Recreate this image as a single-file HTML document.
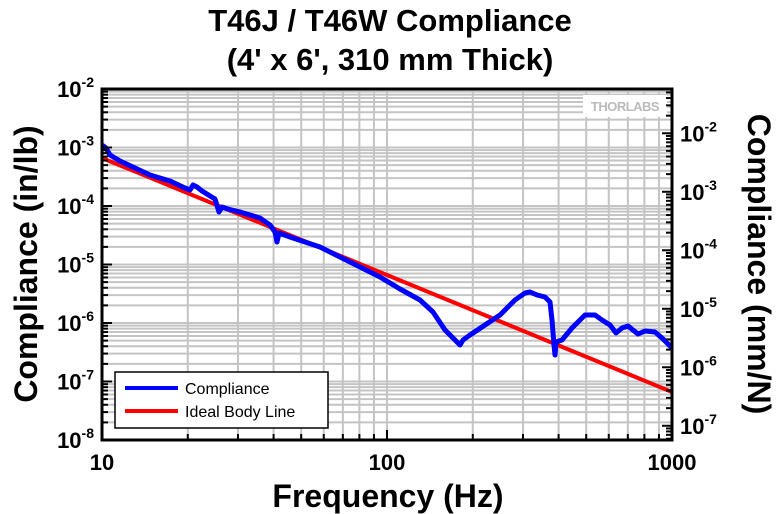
<!DOCTYPE html>
<html><head><meta charset="utf-8"><style>
body{margin:0;background:#fff;width:780px;height:514px;overflow:hidden}
svg{display:block;font-family:"Liberation Sans",Arial,sans-serif;font-weight:bold}
</style></head><body>
<svg id="s" width="780" height="514" xmlns="http://www.w3.org/2000/svg">
<g id="grid"></g>
<text x="390" y="31" text-anchor="middle" font-size="31">T46J / T46W Compliance</text>
<text x="390" y="70" text-anchor="middle" font-size="31">(4' x 6', 310 mm Thick)</text>
<text x="388" y="507" text-anchor="middle" font-size="32">Frequency (Hz)</text>
<text transform="translate(37,264) rotate(-90)" text-anchor="middle" font-size="32">Compliance (in/lb)</text>
<text transform="translate(748,264) rotate(90)" text-anchor="middle" font-size="32">Compliance (mm/N)</text>
<rect x="583" y="95" width="84" height="22" fill="#fff"/>
<text x="625" y="111" text-anchor="middle" font-size="13" fill="#bbb" letter-spacing="-0.5">THORLABS</text>
<polyline fill="none" stroke="#f00" stroke-width="4" points="102,158 672,392"/>
<polyline fill="none" stroke="#00f" stroke-width="5" stroke-linejoin="round" points="102,145 106,148 110,155 120,161 135,168 150,175 170,181 185,188 190,190 193,185 197,187 202,191 215,199 219,212 222,207 228,209 240,212 260,218 270,225 275,232 277,242 279,233 290,237 320,247 350,262 380,277 400,289 420,300 433,312 445,330 455,340 460,345 463,340 470,335 485,325 500,315 515,300 525,293 530,292 537,295 545,297 550,302 552,320 554,345 555,355 556,342 562,340 572,328 585,315 595,315 602,320 610,325 616,333 622,328 628,326 638,334 645,331 655,332 662,338 672,348"/>
<g id="axes"></g>
<rect x="115" y="372" width="213" height="56" fill="#fff" stroke="#000" stroke-width="1.5"/>
<line x1="125" y1="388" x2="178" y2="388" stroke="#00f" stroke-width="4"/>
<line x1="125" y1="411" x2="178" y2="411" stroke="#f00" stroke-width="4"/>
<text x="185" y="394" font-size="16" font-weight="normal">Compliance</text>
<text x="185" y="417" font-size="16" font-weight="normal">Ideal Body Line</text>
</svg>
<script>
var NS="http://www.w3.org/2000/svg",L=102,R=672,T=89,B=440,dx=285,dy=58.5;
function el(p,t,a,txt){var e=document.createElementNS(NS,t);for(var k in a)e.setAttribute(k,a[k]);if(txt!==undefined)e.innerHTML=txt;p.appendChild(e);return e;}
var g=document.getElementById('grid'),a=document.getElementById('axes');
for(var d=0;d<2;d++)for(var m=1;m<10;m++){var x=L+dx*(d+Math.log10(m));if(x<=L)continue;el(g,'line',{x1:x,x2:x,y1:T,y2:B,stroke:'#c4c4c4','stroke-width':2});}
for(var d=0;d<6;d++)for(var m=1;m<10;m++){var y=B-dy*(d+Math.log10(m));if(y>=B)continue;el(g,'line',{x1:L,x2:R,y1:y,y2:y,stroke:'#c4c4c4','stroke-width':2});}
el(a,'rect',{x:L,y:T,width:R-L,height:B-T,fill:'none',stroke:'#000','stroke-width':3});
for(var d=0;d<=6;d++){for(var m=1;m<10;m++){var y=B-dy*(d+Math.log10(m));if(y<T-1)break;el(a,'line',{x1:L,x2:L+(m==1?10:6),y1:y,y2:y,stroke:'#000','stroke-width':2});}
var y=B-dy*d;var t=el(a,'text',{x:L-8,y:y+8,'text-anchor':'end','font-size':22});t.innerHTML='10<tspan dy="-10" font-size="14">-'+(8-d)+'</tspan>';}
for(var d=0;d<=2;d++){for(var m=1;m<10;m++){var x=L+dx*(d+Math.log10(m));if(x>R+1)break;el(a,'line',{x1:x,x2:x,y1:B,y2:B-(m==1?10:6),stroke:'#000','stroke-width':2});}
el(a,'text',{x:L+dx*d,y:470,'text-anchor':'middle','font-size':22},['10','100','1000'][d]);}
var off=Math.log10(25.4/4.448);
for(var d=-8;d<=-1;d++){for(var m=1;m<10;m++){var v=d+Math.log10(m)-off;var y=B-dy*(v+8);if(y>B+1||y<T-1)continue;el(a,'line',{x1:R,x2:R-(m==1?10:6),y1:y,y2:y,stroke:'#000','stroke-width':2});
if(m==1){var t=el(a,'text',{x:R+8,y:y+8,'font-size':22});t.innerHTML='10<tspan dy="-10" font-size="14">'+d+'</tspan>';}}}
</script>
</body></html>
